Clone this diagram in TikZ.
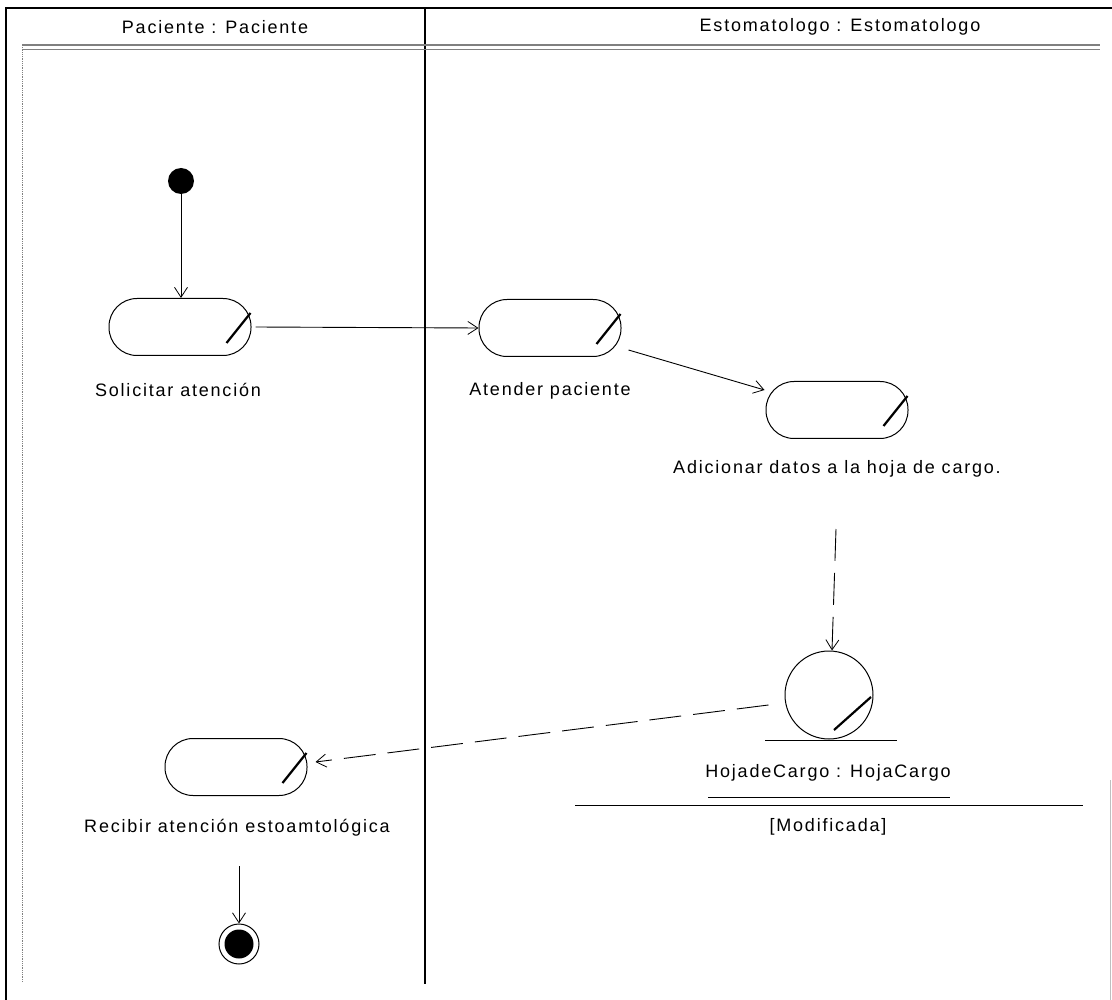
\documentclass[tikz,border=0pt]{standalone}
\usepackage{fontspec}
\setmainfont{Liberation Sans}[LetterSpace=10]
\usetikzlibrary{arrows.meta,calc}
\begin{document}
\begin{tikzpicture}[x=1pt,y=-1pt,
  every node/.style={font=\fontsize{18}{20}\selectfont, inner sep=0pt},
  activity/.style={draw, line width=1pt, rounded corners=28pt,
    minimum width=142pt, minimum height=57pt},
  slash/.style={line width=2.2pt},
  flow/.style={line width=0.9pt, -{Straight Barb[length=10pt,width=13pt,line width=0.8pt]}},
  objflow/.style={flow, dash pattern=on 32pt off 12pt},
  lane/.style={line width=1.2pt},
  txt/.style={anchor=center}]
  \useasboundingbox (0,0) rectangle (1112,1000);

  % frame and swimlanes
  \draw[lane] (6,1000) -- (6,8) -- (1112,8);
  \draw[lane] (425,8) -- (425,984);
  \draw[gray, line width=1.2pt] (22,45) -- (1100,45);
  \draw[gray, line width=1.2pt] (22,49.5) -- (1100,49.5);
  \draw[gray, line width=0.8pt, densely dotted] (22,45) -- (22,982);
  \draw[gray!50, line width=0.6pt] (1110,780) -- (1110,1000);
  \node[txt] (h1) at (215,27) {Paciente : Paciente};
  \node[txt] (h2) at (840,27) {Estomatologo : Estomatologo};

  % initial node
  \node[circle, fill=black, minimum size=26pt] (init) at (181,181) {};

  % activities
  \node[activity] (a1) at (180,327) {};
  \node[activity] (a2) at (550,328) {};
  \node[activity] (a3) at (837,410) {};
  \node[activity] (a4) at (236,767) {};
  \foreach \n in {a1,a2,a3,a4}
    \draw[slash] ($(\n.east)+(-25,16)$) -- ($(\n.east)+(-1,-14)$);

  \node[txt] (l1) at (178,390) {Solicitar atención};
  \node[txt] (l2) at (550,391) {Atender paciente};
  \node[txt] (l3) at (837,469) {Adicionar datos a la hoja de cargo.};
  \node[txt] (l4) at (237,828) {Recibir atención estoamtológica};

  % object node
  \node[circle, draw, line width=1pt, minimum size=88pt] (obj) at (829,695) {};
  \draw[slash] ($(obj.center)+(5,35)$) -- ($(obj.center)+(42,2)$);
  \draw[line width=1pt] (765,740) -- (897,740);
  \node[txt] (on) at (828,773) {HojadeCargo : HojaCargo};
  \draw[line width=1pt] (708,797) -- (950,797);
  \draw[line width=1pt] (575,805) -- (1083,805);
  \node[txt] (os) at (828,827) {[Modificada]};

  % final node
  \node[circle, draw, line width=1pt, minimum size=40pt] (fin) at (239,944) {};
  \fill (fin.center) circle (14.5pt);

  % control flows
  \draw[flow] (init) -- (a1.north -| init);
  \draw[flow] ($(a1.east)+(4,0)$) -- (a2.west);
  \draw[flow] ($(a2.east)+(7,22)$) -- ($(a3.west)+(-1,-20)$);
  \draw[flow] ($(a4.south)+(3,70)$) -- (fin.north);

  % object flows
  \draw[objflow] ($(a3.south)+(-1,90)$) -- ($(obj.north)+(3,0)$);
  \draw[objflow] ($(obj.west)+(-16,10)$) -- ($(a4.east)+(8,-5)$);
\end{tikzpicture}
\end{document}
